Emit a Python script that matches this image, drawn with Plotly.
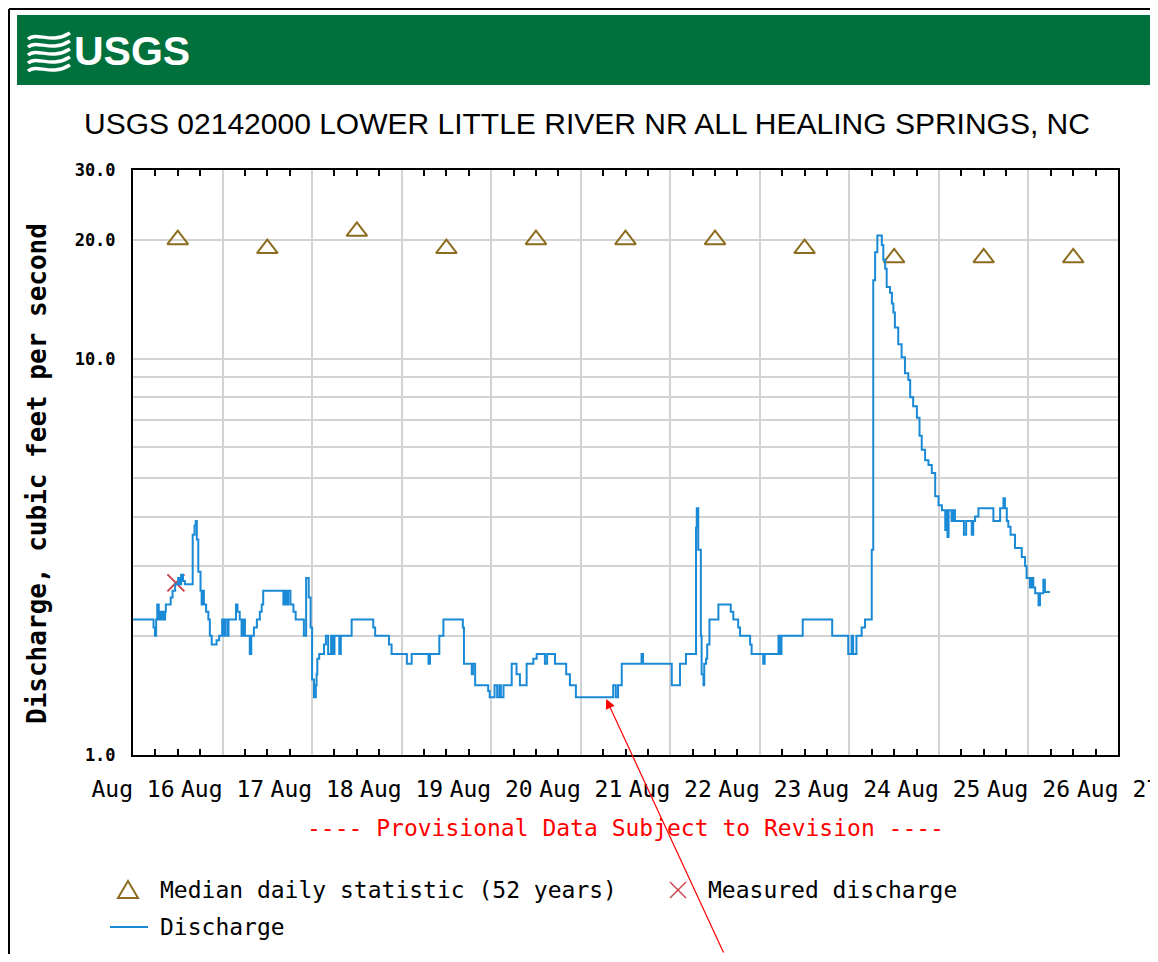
import pandas as pd
import plotly.graph_objects as go

# ---- data ----
START = pd.Timestamp("2012-08-16 00:00")

median_days = ["2012-08-16 12:00", "2012-08-17 12:00", "2012-08-18 12:00", "2012-08-19 12:00",
               "2012-08-20 12:00", "2012-08-21 12:00", "2012-08-22 12:00", "2012-08-23 12:00",
               "2012-08-24 12:00", "2012-08-25 12:00", "2012-08-26 12:00"]
median_cfs = [20, 19, 21, 19, 20, 20, 20, 19, 18, 18, 18]

measured_time = ["2012-08-16 11:30"]
measured_cfs = [2.72]

# hours after Aug 16 00:00, discharge (cfs) -- step series
q_hours = [0.0, 5.5, 5.9, 6.2, 6.5, 6.9, 7.2, 7.6, 7.8, 8.1, 8.6, 8.8, 10.1, 10.6, 11.3, 12.1,
           12.5, 12.9, 13.4, 13.9, 16.0, 16.5, 16.8, 17.1, 17.5, 18.1, 18.4, 18.7, 19.0, 19.6,
           20.2, 20.6, 21.1, 22.4, 23.1, 23.9, 24.2, 24.7, 25.3, 25.6, 27.6, 28.0, 28.6, 29.1,
           29.6, 30.0, 31.3, 31.7, 32.4, 33.2, 34.0, 34.5, 34.9, 40.3, 40.7, 41.1, 41.6, 42.2,
           43.0, 43.6, 45.8, 46.4, 47.1, 47.6, 48.0, 48.5, 49.0, 49.2, 49.4, 49.9, 51.2, 51.7,
           52.3, 53.1, 53.6, 54.0, 55.3, 55.7, 58.6, 64.4, 64.9, 68.6, 69.3, 73.4, 74.7, 79.2,
           79.6, 82.1, 83.2, 88.4, 88.7, 90.8, 91.1, 91.7, 95.2, 95.6, 96.9, 97.6, 98.2, 98.6,
           99.3, 101.5, 102.8, 103.7, 105.5, 107.3, 108.2, 110.4, 111.0, 113.1, 116.1, 117.1,
           118.7, 128.7, 129.4, 130.0, 131.0, 136.3, 136.7, 144.4, 146.6, 148.2, 150.9, 151.1,
           151.5, 152.2, 152.4, 152.9, 153.1, 153.6, 153.9, 154.5, 156.9, 160.2, 160.9, 162.2,
           162.7, 165.4, 165.8, 168.9, 169.3, 173.0, 173.4, 173.8, 179.5, 187.4, 191.7, 192.6,
           193.0, 193.9, 195.3, 196.2, 198.0, 198.4, 198.9, 199.5, 200.7, 201.1, 201.6, 202.0,
           202.9, 203.4, 203.8, 204.2, 205.1, 206.0, 206.9, 207.8, 208.3, 209.1, 210.1, 210.8,
           211.4, 212.3, 213.2, 214.1, 215.0, 215.9, 216.8, 217.7, 217.9, 218.3, 218.6, 219.4,
           219.9, 220.3, 222.7, 223.3, 224.8, 225.2, 225.7, 226.6, 230.6, 232.4, 233.3, 233.7,
           234.2, 234.6, 235.2, 236.4, 238.2, 239.1, 239.5, 240.4, 240.8, 241.3, 241.8, 242.7,
           243.1, 244.0, 244.4, 245.8]
q_cfs = [2.2, 2.1, 2.0, 2.2, 2.4, 2.2, 2.3, 2.2, 2.3, 2.2, 2.3, 2.4, 2.5, 2.6, 2.7, 2.8,
         2.7, 2.85, 2.75, 2.7, 3.6, 3.8, 3.9, 3.5, 2.9, 2.6, 2.4, 2.6, 2.4, 2.3,
         2.2, 2.0, 1.9, 1.95, 2.0, 2.2, 2.0, 2.2, 2.0, 2.2, 2.4, 2.3, 2.2, 2.0,
         2.2, 2.0, 1.8, 2.0, 2.1, 2.2, 2.3, 2.4, 2.6, 2.4, 2.6, 2.4, 2.6, 2.4,
         2.3, 2.2, 2.0, 2.8, 2.5, 2.1, 1.55, 1.4, 1.5, 1.6, 1.75, 1.8, 1.9, 2.0,
         1.8, 2.0, 1.8, 2.0, 1.8, 2.0, 2.2, 2.1, 2.0, 1.9, 1.8, 1.7, 1.8, 1.7,
         1.8, 2.0, 2.2, 2.1, 1.7, 1.6, 1.7, 1.5, 1.45, 1.4, 1.5, 1.4, 1.5, 1.4,
         1.5, 1.7, 1.6, 1.5, 1.7, 1.75, 1.8, 1.7, 1.8, 1.7, 1.6, 1.5,
         1.4, 1.5, 1.4, 1.5, 1.7, 1.8, 1.7, 1.5, 1.7, 1.8, 3.75, 4.2,
         3.3, 2.0, 1.6, 1.5, 1.7, 1.75, 1.9, 2.2, 2.4, 2.3, 2.2, 2.1,
         2.0, 1.9, 1.8, 1.7, 1.8, 2.0, 1.8, 2.0, 2.2, 2.0, 1.8, 2.0,
         1.8, 2.0, 2.1, 2.2, 3.3, 15.8, 18.6, 20.5, 19.4, 17.8, 16.9, 15.2,
         14.7, 13.8, 13.1, 12.0, 10.9, 10.1, 9.2, 8.85, 8.0, 7.6, 7.1, 6.4,
         5.9, 5.55, 5.4, 5.15, 4.5, 4.27, 4.15, 3.7, 4.15, 3.55, 4.15, 3.9,
         4.15, 3.9, 3.6, 3.9, 3.6, 3.9, 4.0, 4.2, 3.9, 4.2, 4.45, 4.2,
         3.9, 3.77, 3.6, 3.33, 3.16, 3.0, 2.8, 2.65, 2.8, 2.65, 2.56, 2.39,
         2.56, 2.77, 2.58, 2.58]

y_ticks = [1, 2, 3, 4, 5, 6, 7, 8, 9, 10, 20, 30]
y_ticktext = ["1.0", "", "", "", "", "", "", "", "", "10.0", "20.0", "30.0"]
last_tick = "2012-08-27"   # its label sits half outside the page, like the original

# ---- geometry: the page has an 8px body margin, so the figure is 1150 x 946 ----
OFF = 8
W, H = 1150, 946
L, R, T, B = 133 - OFF, 1118 - OFF, 170 - OFF, 755 - OFF


def px(x):
    """page x pixel -> paper x"""
    return (x - OFF - L) / (R - L)


def py(y):
    """page y pixel -> paper y"""
    return (B - (y - OFF)) / (B - T)


MONO = "DejaVu Sans Mono, Liberation Mono, monospace"
SANS = "Liberation Sans, Arial, sans-serif"
TRI_C, X_C, Q_C = "#8c6d1f", "#c8444a", "#1a8ad6"

q_time = [START + pd.Timedelta(hours=h) for h in q_hours]

fig = go.Figure()
fig.add_trace(go.Scatter(
    x=median_days, y=median_cfs, mode="markers", name="Median daily statistic (52 years)",
    marker=dict(symbol="triangle-up-open", size=18, color=TRI_C, line=dict(width=2))))
fig.add_trace(go.Scatter(
    x=measured_time, y=measured_cfs, mode="markers", name="Measured discharge",
    marker=dict(symbol="x-thin-open", size=17, color=X_C, line=dict(width=2))))
fig.add_trace(go.Scatter(
    x=q_time, y=q_cfs, mode="lines", name="Discharge", line_shape="hv",
    line=dict(color=Q_C, width=2)))

grid = "#d3d3d3"
fig.update_xaxes(
    type="date", range=["2012-08-16", "2012-08-27"], dtick=86400000,
    tick0="2012-08-16", tickformat="%b %d", showgrid=True, gridcolor=grid, gridwidth=2,
    showline=True, linecolor="black", linewidth=2, mirror="ticks", ticks="",
    minor=dict(dtick=6 * 3600000, ticks="inside", ticklen=6, tickwidth=1.5,
               tickcolor="black", showgrid=False),
    tickfont=dict(family=MONO, size=23, color="black"), ticklabelstandoff=12)
fig.update_yaxes(
    type="log", range=[0, 1.4771], tickvals=y_ticks, ticktext=y_ticktext,
    showgrid=True, gridcolor=grid, gridwidth=2,
    showline=True, linecolor="black", linewidth=2, mirror=True, ticks="",
    tickfont=dict(family=MONO, size=17, color="black", weight="bold"), ticklabelstandoff=12)


def pline(x0, y0, x1, y1, color, width):
    return dict(type="line", xref="paper", yref="paper", x0=px(x0), y0=py(y0),
                x1=px(x1), y1=py(y1), line=dict(color=color, width=width))


shapes = [
    # outer frame (left & top visible)
    pline(9, 9, 9, 975, "black", 2),
    pline(9, 9, 1170, 9, "black", 2),
    # green banner
    dict(type="rect", xref="paper", yref="paper", x0=px(17), x1=px(1170), y0=py(85),
         y1=py(15), fillcolor="#00703c", line=dict(width=0), layer="below"),
    # legend keys
    dict(type="path", xref="paper", yref="paper",
         path=f"M {px(118)},{py(898)} L {px(138)},{py(898)} L {px(128)},{py(881)} Z",
         line=dict(color=TRI_C, width=2)),
    pline(670, 882, 686, 898, X_C, 1.5),
    pline(670, 898, 686, 882, X_C, 1.5),
    pline(110, 927, 148, 927, Q_C, 2),
]
# USGS wave mark
for k in range(5):
    y0 = 33 + k * 8
    path = (f"M {px(28)},{py(y0 + 6)} C {px(38)},{py(y0 - 2)} {px(50)},{py(y0 + 12)} "
            f"{px(70)},{py(y0)}")
    shapes.append(dict(type="path", xref="paper", yref="paper", path=path,
                       line=dict(color="white", width=3.5)))


def ptext(text, x, y, size, color="black", family=MONO, xanchor="left", **kw):
    return dict(text=text, x=px(x), y=py(y), xref="paper", yref="paper", xanchor=xanchor,
                yanchor="middle", showarrow=False,
                font=dict(family=family, size=size, color=color, **kw))


annotations = [
    ptext("USGS", 72, 51, 41, "white", SANS, weight="bold"),
    ptext("USGS 02142000 LOWER LITTLE RIVER NR ALL HEALING SPRINGS, NC", 587, 123, 30,
          family=SANS, xanchor="center"),
    dict(text="Discharge, cubic feet per second", x=px(37), y=py(474), xref="paper",
         yref="paper", textangle=-90, xanchor="center", yanchor="middle", showarrow=False,
         font=dict(family=MONO, size=26, color="black", weight="bold")),
    # last x tick label, drawn by hand because it runs off the page edge
    dict(text=pd.Timestamp(last_tick).strftime("%b %d"), x=last_tick, xref="x",
         y=py(789), yref="paper", xanchor="center", yanchor="middle", showarrow=False,
         font=dict(family=MONO, size=23, color="black")),
    ptext("---- Provisional Data Subject to Revision ----", 625, 828, 23, "#ff0000",
          xanchor="center"),
    ptext("Median daily statistic (52 years)", 158, 890, 23),
    ptext("Measured discharge", 706, 890, 23),
    ptext("Discharge", 158, 927, 23),
    # red pointer added to the graph
    dict(x="2012-08-21 06:50", y=0.1414, xref="x", yref="y", text="", showarrow=True,
         arrowhead=2, arrowsize=1.6, arrowwidth=1.2, arrowcolor="#ff0000",
         ax=118, ay=262, axref="pixel", ayref="pixel"),
]

fig.update_layout(
    width=W, height=H, autosize=False,
    margin=dict(l=L, r=W - R, t=T, b=H - B, pad=0),
    paper_bgcolor="white", plot_bgcolor="white",
    shapes=shapes, annotations=annotations, showlegend=False,
)

fig.write_html("out.html")
